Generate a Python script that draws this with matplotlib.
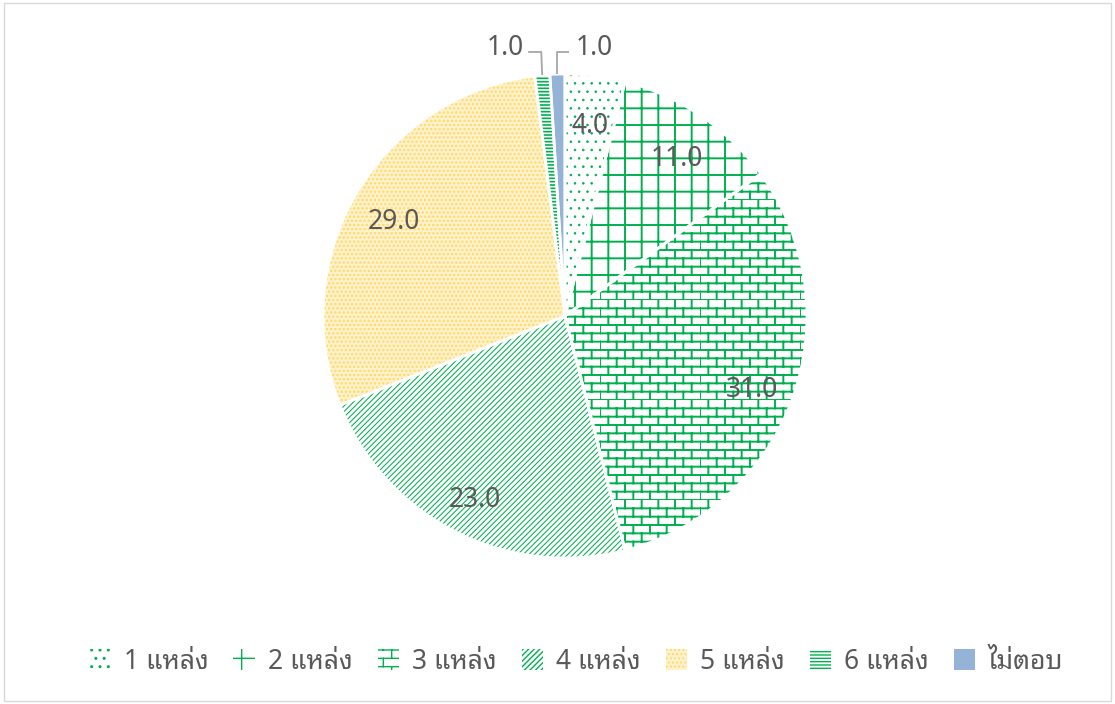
import warnings
import numpy as np
import matplotlib
matplotlib.use("Agg")
import matplotlib.pyplot as plt
import matplotlib.hatch as mhatch
from matplotlib.path import Path
from matplotlib.patches import Wedge, Rectangle
from matplotlib import font_manager as fm

warnings.filterwarnings("ignore")

# ---------------- data ----------------
categories = ["1 แหล่ง", "2 แหล่ง", "3 แหล่ง", "4 แหล่ง", "5 แหล่ง", "6 แหล่ง", "ไม่ตอบ"]
values = [4.0, 11.0, 31.0, 23.0, 29.0, 1.0, 1.0]

# ---------------- styles ----------------
GREEN = "#00B050"
YELLOW = "#FFD966"
BLUE = "#95B3D7"
TEXT = "#595959"
hatches = ["..", "+", "bb", "//////", "....", "-----", None]
hatch_colors = [GREEN, GREEN, GREEN, GREEN, YELLOW, GREEN, BLUE]
face_colors = ["white", "white", "white", "white", "#FFF3CF", "white", BLUE]
hatch_lw = [0.6, 1.4, 1.4, 0.75, 1.2, 1.2, 1.0]

# font with Thai glyphs
available = set(f.name for f in fm.fontManager.ttflist)
thai_font = None
for cand in ["Noto Sans Thai Looped", "IBM Plex Sans Thai Looped", "Sarabun",
             "Noto Sans Thai", "IBM Plex Sans Thai", "Anuphan"]:
    if cand in available:
        thai_font = cand
        break
fam = [thai_font, "DejaVu Sans"] if thai_font else ["DejaVu Sans"]
plt.rcParams["font.family"] = fam


# custom brick hatch (character 'b')
class BrickHatch(mhatch.HatchPatternBase):
    def __init__(self, hatch, density):
        c = hatch.count("b")
        n = int(c * density)
        if n % 2:
            n += 1
        self.n = n
        self.num_vertices = (2 * n + n * n) if n else 0

    def set_vertices_and_codes(self, vertices, codes):
        n = self.n
        if n == 0:
            return
        k = 0
        for i in range(n):
            y = i / n
            vertices[k] = (0.0, y); codes[k] = Path.MOVETO; k += 1
            vertices[k] = (1.0, y); codes[k] = Path.LINETO; k += 1
        bw = 2.0 / n
        for i in range(n):
            off = 0.5 * bw if i % 2 else 0.0
            for j in range(n // 2):
                x = off + j * bw
                vertices[k] = (x, i / n); codes[k] = Path.MOVETO; k += 1
                vertices[k] = (x, (i + 1) / n); codes[k] = Path.LINETO; k += 1


mhatch._hatch_types.append(BrickHatch)
mhatch._validate_hatch_pattern = lambda h: None

fig = plt.figure(figsize=(11.15, 7.04), dpi=100)
fig.patches.append(Rectangle((0.004, 0.004), 0.992, 0.992, transform=fig.transFigure,
                             fill=False, edgecolor="#D9D9D9", linewidth=1.0))

ax = fig.add_axes([0.0, 0.0, 1.0, 1.0])
R = 1.0
wedges, _ = ax.pie(values, startangle=90, counterclock=False, radius=R,
                   center=(0, 0), wedgeprops=dict(linewidth=0))

for w, h, hc, fc, lw in zip(wedges, hatches, hatch_colors, face_colors, hatch_lw):
    w.set_facecolor(fc)
    w.set_edgecolor(hc)
    w.set_linewidth(0)
    if h:
        w.set_hatch(h)
        if hasattr(w, "set_hatch_linewidth"):
            w.set_hatch_linewidth(lw)

# white separators
for w in wedges:
    ax.add_patch(Wedge(w.center, w.r, w.theta1, w.theta2, fill=False,
                       edgecolor="white", linewidth=2.0, zorder=3))

# data labels
total = sum(values)
cum = np.cumsum([0] + values)
LABEL_FS = 19
for i, v in enumerate(values):
    mid = 90 - (cum[i] + v / 2) / total * 360
    if v >= 3:
        x = 0.82 * R * np.cos(np.radians(mid))
        y = 0.82 * R * np.sin(np.radians(mid)) - 0.028
        ax.text(x, y, f"{v:.1f}", ha="center", va="center", fontsize=LABEL_FS,
                color=TEXT, zorder=5)

# small slices with leader lines
elbow_y = 1.091
text_y = 1.108
for i, side in [(5, "left"), (6, "right")]:
    mid = 90 - (cum[i] + values[i] / 2) / total * 360
    px = R * np.cos(np.radians(mid))
    py = R * np.sin(np.radians(mid))
    if side == "left":
        ax.plot([px, px - 0.004, px - 0.058], [py, elbow_y, elbow_y],
                color="#A6A6A6", lw=1.3, zorder=4, solid_capstyle="butt")
        ax.text(px - 0.075, text_y, f"{values[i]:.1f}", ha="right", va="center",
                fontsize=LABEL_FS, color=TEXT)
    else:
        ax.plot([px, px, px + 0.05], [py, elbow_y, elbow_y],
                color="#A6A6A6", lw=1.3, zorder=4, solid_capstyle="butt")
        ax.text(px + 0.075, text_y, f"{values[i]:.1f}", ha="left", va="center",
                fontsize=LABEL_FS, color=TEXT)

# axes scaling: center at (565,316) px, radius 242 px
W, H = 1115, 704
cx, cy, rp = 565, 316, 242
ax.set_xlim(-cx / rp, (W - cx) / rp)
ax.set_ylim(-(H - cy) / rp, cy / rp)
ax.set_aspect("auto")
ax.axis("off")

leg = ax.legend(wedges, categories, loc="center", bbox_to_anchor=(0.517, 0.06),
                bbox_transform=fig.transFigure, ncol=7, frameon=False,
                fontsize=19, handlelength=0.8, handleheight=0.8,
                handletextpad=0.5, columnspacing=0.95, labelcolor=TEXT)
for lh in leg.legend_handles:
    lh.set_linewidth(0)

fig.savefig("out.png", dpi=100)
